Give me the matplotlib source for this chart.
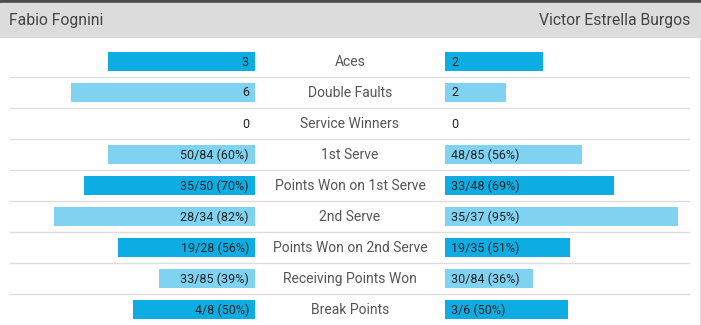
import matplotlib
matplotlib.use("Agg")
import matplotlib.pyplot as plt

plt.rcParams['font.family'] = ['Roboto', 'DejaVu Sans']

# match stats, one row per category
PLAYER_LEFT = "Fabio Fognini"
PLAYER_RIGHT = "Victor Estrella Burgos"

stats = ["Aces", "Double Faults", "Service Winners", "1st Serve",
         "Points Won on 1st Serve", "2nd Serve", "Points Won on 2nd Serve",
         "Receiving Points Won", "Break Points"]

left_text = ["3", "6", "0", "50/84 (60%)", "35/50 (70%)", "28/34 (82%)",
             "19/28 (56%)", "33/85 (39%)", "4/8 (50%)"]
right_text = ["2", "2", "0", "48/85 (56%)", "33/48 (69%)", "35/37 (95%)",
              "19/35 (51%)", "30/84 (36%)", "3/6 (50%)"]

# bar length as a share (%) -- counts are split by share of the total
left_pct = [60, 75, 0, 60, 70, 82, 56, 39, 50]
right_pct = [40, 25, 0, 56, 69, 95, 51, 36, 50]

dark = [True, False, False, False, True, False, True, False, True]

DARK_BLUE = "#0dade4"
LIGHT_BLUE = "#80d2f1"

W, H = 701, 325
fig = plt.figure(figsize=(W / 100, H / 100), dpi=100)
ax = fig.add_axes([0, 0, 1, 1])
ax.set_xlim(0, W)
ax.set_ylim(H, 0)
ax.axis("off")

# header strip
ax.axhspan(0, 3, color="#4b4b4b", zorder=0)
ax.axhspan(3, 37, color="#dcdcdc", zorder=0)
ax.text(9, 21, PLAYER_LEFT, fontsize=11.3, color="#444444",
        ha="left", va="center")
ax.text(690, 21, PLAYER_RIGHT, fontsize=11.3, color="#444444",
        ha="right", va="center")
ax.plot([699.5, 699.5], [37, H], color="#e4e4e4", lw=1)

MID_LEFT = 255
MID_RIGHT = 445
SCALE = 2.45   # px per percent
ROW0 = 61.5
PITCH = 31

for i, name in enumerate(stats):
    y = ROW0 + i * PITCH
    col = DARK_BLUE if dark[i] else LIGHT_BLUE
    wl = left_pct[i] * SCALE
    wr = right_pct[i] * SCALE
    if wl > 0:
        ax.barh(y, wl, left=MID_LEFT - wl, height=19, color=col, zorder=2)
    if wr > 0:
        ax.barh(y, wr, left=MID_RIGHT, height=19, color=col, zorder=2)
    ax.text(MID_LEFT - 6, y + 0.5, left_text[i], fontsize=9.0,
            color="#222222", ha="right", va="center", zorder=3)
    ax.text(MID_RIGHT + 6, y + 0.5, right_text[i], fontsize=9.0,
            color="#222222", ha="left", va="center", zorder=3)
    ax.text(350, y + 0.5, name, fontsize=10.0, color="#555555",
            ha="center", va="center", zorder=3)
    if i < len(stats) - 1:
        ax.plot([10, 689], [y + 15.5, y + 15.5], color="#dddddd",
                lw=1, zorder=1)

fig.savefig("out.png", dpi=100)
